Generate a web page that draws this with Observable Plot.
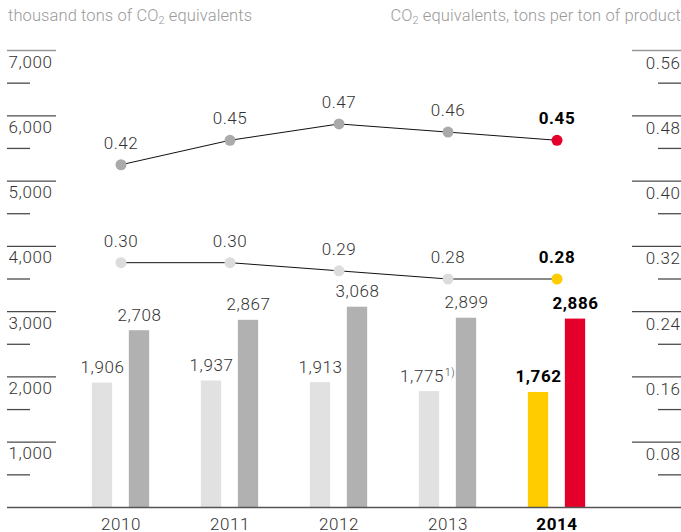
<!DOCTYPE html>
<html>
<head>
<meta charset="utf-8">
<script src="https://cdn.jsdelivr.net/npm/d3@7"></script>
<script src="https://cdn.jsdelivr.net/npm/@observablehq/plot@0.6"></script>
<style>
  html, body { margin: 0; padding: 0; background: #fff; }
  body { width: 681px; height: 532px; overflow: hidden; font-family: Roboto, "Noto Sans", sans-serif; }
  #head { position: relative; height: 40px; width: 681px; color: #9a9a9a; font-size: 16.5px; font-weight: 300; letter-spacing: 0.1px; }
  #head span { position: absolute; top: 6px; white-space: nowrap; }
  #head .l { left: 8px; }
  #head .r { right: 0px; }
  #head sub { font-size: 11px; vertical-align: -3px; line-height: 0; }
  svg { display: block; }
</style>
</head>
<body>
<div id="head">
  <span class="l">thousand tons of CO<sub>2</sub> equivalents</span>
  <span class="r">CO<sub>2</sub> equivalents, tons per ton of product</span>
</div>
<div id="chart"></div>
<script>
const years = ["2010", "2011", "2012", "2013", "2014"];
const barLight = [1906, 1937, 1913, 1775, 1762];
const barDark = [2708, 2867, 3068, 2899, 2886];
const ratioUpper = [0.42, 0.45, 0.47, 0.46, 0.45];
const ratioLower = [0.30, 0.30, 0.29, 0.28, 0.28];
const footnotes = ["", "", "", "1)", ""];
const leftTicks = [1000, 2000, 3000, 4000, 5000, 6000, 7000];
const leftMinor = [500, 1500, 2500, 3500, 4500, 5500, 6500];
const rightTicks = [0.08, 0.16, 0.24, 0.32, 0.40, 0.48, 0.56];
const rightMinor = [0.04, 0.12, 0.20, 0.28, 0.36, 0.44, 0.52];

const ratioScale = 7000 / 0.56; // right axis value -> left axis units
const highlight = "2014";

const rows = years.map((year, i) => ({
  year, light: barLight[i], dark: barDark[i],
  upper: ratioUpper[i], lower: ratioLower[i], note: footnotes[i]
}));
const fmt = d3.format(",");
const txt = "#333";
const FS = 17;

const chart = Plot.plot({
  width: 681,
  height: 492,
  marginTop: 10,
  marginBottom: 25,
  marginLeft: 0,
  marginRight: 0,
  style: { fontFamily: "Roboto, 'Noto Sans', sans-serif", fontWeight: 300, letterSpacing: "0.6px" },
  x: { type: "band", domain: years, range: [64.65, 613.15], padding: 0, axis: null },
  y: { domain: [0, 7000], axis: null },
  color: { type: "identity" },
  marks: [
    // left axis rules
    Plot.ruleY(leftTicks.filter(d => d < 7000), { y: d => d, insetLeft: 7, insetRight: 625, stroke: "#4a4a4a", strokeWidth: 1.3 }),
    Plot.ruleY(leftTicks.filter(d => d === 7000), { y: d => d, insetLeft: 7, insetRight: 625, stroke: "#999", strokeWidth: 1.3 }),
    Plot.ruleY(leftMinor, { y: d => d, insetLeft: 7, insetRight: 651, stroke: "#4a4a4a", strokeWidth: 1.3 }),
    Plot.text(leftTicks, { y: d => d, text: d => fmt(d), frameAnchor: "left", textAnchor: "start", lineAnchor: "bottom", dx: 8, dy: 17, fontSize: FS, fill: txt }),
    // right axis rules
    Plot.ruleY(rightTicks.filter(d => d < 0.56), { y: d => d * ratioScale, insetLeft: 632, stroke: "#4a4a4a", strokeWidth: 1.3 }),
    Plot.ruleY(rightTicks.filter(d => d === 0.56), { y: d => d * ratioScale, insetLeft: 632, stroke: "#999", strokeWidth: 1.3 }),
    Plot.ruleY(rightMinor, { y: d => d * ratioScale, insetLeft: 658, stroke: "#4a4a4a", strokeWidth: 1.3 }),
    Plot.text(rightTicks, { y: d => d * ratioScale, text: d => d.toFixed(2), frameAnchor: "right", textAnchor: "end", lineAnchor: "bottom", dx: -1, dy: 18, fontSize: FS, fill: txt }),
    // bars
    Plot.barY(rows, { x: "year", y: "light", insetLeft: 25.85, insetRight: 62.85, fill: d => d.year === highlight ? "#ffcc00" : "#e1e1e1" }),
    Plot.barY(rows, { x: "year", y: "dark", insetLeft: 62.85, insetRight: 25.85, fill: d => d.year === highlight ? "#e4002b" : "#b1b1b2" }),
    // baseline
    Plot.ruleY([0], { insetLeft: 7, stroke: "#555", strokeWidth: 1.5 }),
    // bar labels
    Plot.text(rows.filter(d => d.year !== highlight && !d.note), { x: "year", y: "light", text: d => fmt(d.light), dx: -18.5, dy: -10, lineAnchor: "bottom", fontSize: FS, fill: txt }),
    Plot.text(rows.filter(d => d.year !== highlight && d.note), { x: "year", y: "light", text: d => fmt(d.light), dx: -4, dy: -10, textAnchor: "end", lineAnchor: "bottom", fontSize: FS, fill: txt }),
    Plot.text(rows.filter(d => d.note), { x: "year", y: "light", text: "note", dx: -3, dy: -16, textAnchor: "start", lineAnchor: "bottom", fontSize: 10, fill: txt }),
    Plot.text(rows.filter(d => d.year !== highlight), { x: "year", y: "dark", text: d => fmt(d.dark), dx: 18.5, dy: -10, lineAnchor: "bottom", fontSize: FS, fill: txt }),
    Plot.text(rows.filter(d => d.year === highlight), { x: "year", y: "light", text: d => fmt(d.light), dx: -18.5, dy: -10, lineAnchor: "bottom", fontSize: FS, fontWeight: "bold", fill: "#000" }),
    Plot.text(rows.filter(d => d.year === highlight), { x: "year", y: "dark", text: d => fmt(d.dark), dx: 18.5, dy: -10, lineAnchor: "bottom", fontSize: FS, fontWeight: "bold", fill: "#000" }),
    // ratio lines
    Plot.lineY(rows, { x: "year", y: d => d.upper * ratioScale, stroke: "#111", strokeWidth: 1 }),
    Plot.lineY(rows.slice(0, 4), { x: "year", y: d => d.lower * ratioScale, stroke: "#111", strokeWidth: 1 }),
    Plot.lineY(rows.slice(3), { x: "year", y: d => d.lower * ratioScale, stroke: "#8a8a8a", strokeWidth: 2 }),
    Plot.dot(rows, { x: "year", y: d => d.upper * ratioScale, r: 5.5, fill: d => d.year === highlight ? "#e4002b" : "#aaaaaa" }),
    Plot.dot(rows, { x: "year", y: d => d.lower * ratioScale, r: 5.5, fill: d => d.year === highlight ? "#ffcc00" : "#dcdcdc" }),
    Plot.text(rows.filter(d => d.year !== highlight), { x: "year", y: d => d.upper * ratioScale, text: d => d.upper.toFixed(2), dy: -16, lineAnchor: "bottom", fontSize: FS, fill: txt }),
    Plot.text(rows.filter(d => d.year !== highlight), { x: "year", y: d => d.lower * ratioScale, text: d => d.lower.toFixed(2), dy: -16, lineAnchor: "bottom", fontSize: FS, fill: txt }),
    Plot.text(rows.filter(d => d.year === highlight), { x: "year", y: d => d.upper * ratioScale, text: d => d.upper.toFixed(2), dy: -16, lineAnchor: "bottom", fontSize: FS, fontWeight: "bold", fill: "#000" }),
    Plot.text(rows.filter(d => d.year === highlight), { x: "year", y: d => d.lower * ratioScale, text: d => d.lower.toFixed(2), dy: -16, lineAnchor: "bottom", fontSize: FS, fontWeight: "bold", fill: "#000" }),
    // year labels
    Plot.text(rows.filter(d => d.year !== highlight), { x: "year", y: 0, text: "year", dy: 22, lineAnchor: "bottom", fontSize: FS, fill: txt }),
    Plot.text(rows.filter(d => d.year === highlight), { x: "year", y: 0, text: "year", dy: 22, lineAnchor: "bottom", fontSize: FS, fontWeight: "bold", fill: "#000" })
  ]
});
document.getElementById("chart").appendChild(chart);
</script>
</body>
</html>
